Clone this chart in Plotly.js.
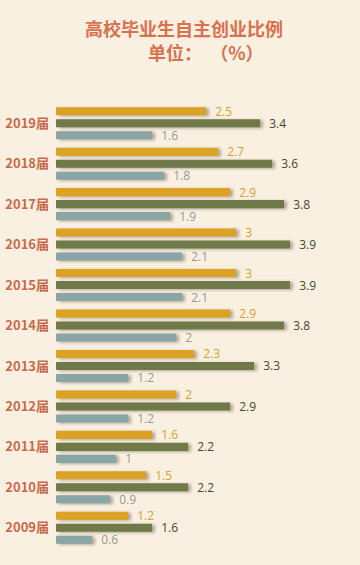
<!DOCTYPE html>
<html>
<head>
<meta charset="utf-8">
<script src="https://cdn.plot.ly/plotly-3.0.1.min.js"></script>
<style>
html,body{margin:0;padding:0;background:#FAF0E1;}
#chart{width:360px;height:565px;}
.barlayer .point path{filter:drop-shadow(3px 1px 1.5px rgba(90,80,60,0.45));}
</style>
</head>
<body>
<div id="chart"></div>
<script>
const categories = ['2019届','2018届','2017届','2016届','2015届','2014届','2013届','2012届','2011届','2010届','2009届'];
const seriesA = [2.5, 2.7, 2.9, 3, 3, 2.9, 2.3, 2, 1.6, 1.5, 1.2];
const seriesB = [3.4, 3.6, 3.8, 3.9, 3.9, 3.8, 3.3, 2.9, 2.2, 2.2, 1.6];
const seriesC = [1.6, 1.8, 1.9, 2.1, 2.1, 2, 1.2, 1.2, 1, 0.9, 0.6];
const titleText = '高校毕业生自主创业比例';
const unitText = '单位：\u00A0\u00A0（%）';

const font = '"Noto Sans CJK SC", "Noto Sans", sans-serif';
function mk(vals, color, tcolor){
  return {
    type:'bar', orientation:'h', y:categories, x:vals,
    marker:{color:color},
    text: vals.map(v=>String(v)),
    texttemplate:'\u00A0\u00A0%{text}',
    textposition:'outside', cliponaxis:false, constraintext:'none',
    textfont:{family:'"Open Sans", sans-serif', size:12, color:tcolor},
    hoverinfo:'none'
  };
}
const data = [
  mk(seriesA, '#DCA223', '#D9A12A'),
  mk(seriesB, '#6F7A48', '#3F4A2C'),
  mk(seriesC, '#8AA5A6', '#8E9C9C')
];
const titleFont = {family:font, size:18, color:'#D9714F', weight:'bold'};
const layout = {
  width:360, height:565,
  paper_bgcolor:'#FAF0E1', plot_bgcolor:'#FAF0E1',
  margin:{l:56, r:34, t:103, b:17},
  showlegend:false,
  barmode:'group', bargap:0.11, bargroupgap:0.33,
  title:{text:titleText, x:184/360, xanchor:'center', xref:'container', yref:'container', y:1-30/565, yanchor:'middle',
         font:titleFont},
  annotations:[{text:unitText, xref:'paper', yref:'paper', x:(206-56)/270, y:(548-52)/445,
                xanchor:'center', yanchor:'middle', showarrow:false, font:titleFont}],
  xaxis:{range:[0,4.5], showticklabels:false, showgrid:false, zeroline:false, showline:false, fixedrange:true},
  yaxis:{autorange:'reversed', type:'category', showgrid:false, zeroline:false, showline:false,
         ticks:'', ticklabelstandoff:6,
         tickfont:{family:font, size:13, color:'#C8694A', weight:'bold'}},
  font:{family:font}
};
Plotly.newPlot('chart', data, layout, {displayModeBar:false, staticPlot:true});
</script>
</body>
</html>
